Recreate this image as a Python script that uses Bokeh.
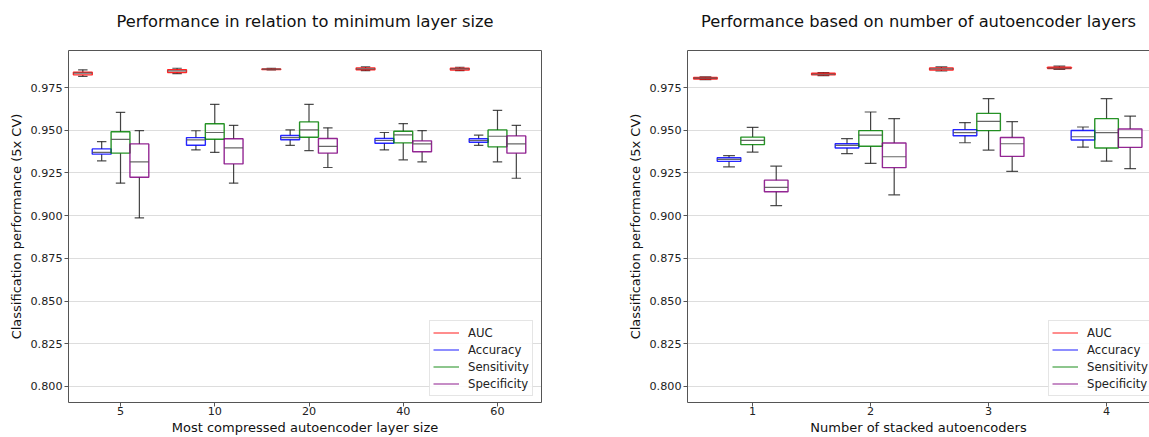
from bokeh.plotting import figure
from bokeh.models import (Range1d, FixedTicker, PrintfTickFormatter, LinearAxis,
                          Legend, LegendItem, ColumnDataSource)
from bokeh.layouts import row
from bokeh.embed import file_html
from bokeh.resources import INLINE

# ---------------- data: (whisker_low, q1, median, q3, whisker_high) per group
METRICS = ["AUC", "Accuracy", "Sensitivity", "Specificity"]

LEFT_GROUPS = ["5", "10", "20", "40", "60"]
LEFT_AUC = [(0.9816, 0.9824, 0.9834, 0.9840, 0.9854),
            (0.9832, 0.9838, 0.9848, 0.9855, 0.9863),
            (0.9854, 0.9855, 0.9858, 0.9859, 0.9863),
            (0.9849, 0.9854, 0.9859, 0.9865, 0.9871),
            (0.9849, 0.9853, 0.9859, 0.9863, 0.9869)]
LEFT_ACC = [(0.9321, 0.9360, 0.9371, 0.9391, 0.9434),
            (0.9385, 0.9412, 0.9444, 0.9457, 0.9497),
            (0.9412, 0.9444, 0.9457, 0.9469, 0.9502),
            (0.9385, 0.9424, 0.9440, 0.9452, 0.9487),
            (0.9412, 0.9430, 0.9440, 0.9450, 0.9471)]
LEFT_SENS = [(0.9190, 0.9366, 0.9447, 0.9491, 0.9605),
             (0.9370, 0.9447, 0.9487, 0.9538, 0.9652),
             (0.9381, 0.9459, 0.9502, 0.9549, 0.9652),
             (0.9327, 0.9426, 0.9473, 0.9494, 0.9539),
             (0.9315, 0.9403, 0.9465, 0.9502, 0.9617)]
LEFT_SPEC = [(0.8987, 0.9225, 0.9315, 0.9420, 0.9498),
             (0.9190, 0.9303, 0.9397, 0.9450, 0.9529),
             (0.9282, 0.9366, 0.9406, 0.9452, 0.9514),
             (0.9315, 0.9374, 0.9420, 0.9438, 0.9498),
             (0.9219, 0.9366, 0.9420, 0.9467, 0.9529)]

RIGHT_GROUPS = ["1", "2", "3", "4"]
RIGHT_AUC = [(0.9797, 0.9800, 0.9805, 0.9809, 0.9812),
             (0.9820, 0.9824, 0.9828, 0.9834, 0.9838),
             (0.9847, 0.9853, 0.9859, 0.9865, 0.9871),
             (0.9857, 0.9862, 0.9863, 0.9869, 0.9875)]
RIGHT_ACC = [(0.9286, 0.9318, 0.9329, 0.9339, 0.9351),
             (0.9363, 0.9396, 0.9411, 0.9421, 0.9451),
             (0.9427, 0.9468, 0.9486, 0.9504, 0.9545),
             (0.9401, 0.9443, 0.9462, 0.9499, 0.9519)]
RIGHT_SENS = [(0.9372, 0.9416, 0.9441, 0.9460, 0.9517),
              (0.9306, 0.9406, 0.9472, 0.9498, 0.9607),
              (0.9384, 0.9498, 0.9552, 0.9599, 0.9685),
              (0.9319, 0.9396, 0.9486, 0.9568, 0.9685)]
RIGHT_SPEC = [(0.9059, 0.9140, 0.9165, 0.9208, 0.9290),
              (0.9122, 0.9281, 0.9345, 0.9425, 0.9568),
              (0.9259, 0.9347, 0.9421, 0.9458, 0.9550),
              (0.9275, 0.9400, 0.9457, 0.9507, 0.9583)]

Y_TICKS = [0.800, 0.825, 0.850, 0.875, 0.900, 0.925, 0.950, 0.975]

# ---------------- style
COLORS = ["#ff0000", "#0000ff", "#008000", "#800080"]
OFFSETS = [-0.4, -0.2, 0.0, 0.2]
BOX_W = 0.2
CAP_W = 0.1
FONT = "DejaVu Sans"
AX_COL = "#555555"
NAN = float("nan")


def make_plot(title, xlabel, groups, series, width, mb_left, mb_right, x_end, right_axis):
    p = figure(width=width, height=437, output_backend="svg", toolbar_location=None,
               x_range=Range1d(-0.552, x_end), y_range=Range1d(0.7906, 0.9967),
               min_border_left=mb_left, min_border_right=mb_right,
               min_border_top=50, min_border_bottom=35)
    p.outline_line_color = None
    p.background_fill_color = "white"
    p.border_fill_color = "white"

    p.xgrid.visible = False
    p.ygrid.grid_line_color = "#dddddd"
    p.ygrid.grid_line_width = 1

    p.xaxis.ticker = FixedTicker(ticks=list(range(len(groups))))
    p.xaxis.major_label_overrides = {i: g for i, g in enumerate(groups)}
    p.yaxis.ticker = FixedTicker(ticks=Y_TICKS)
    p.yaxis.formatter = PrintfTickFormatter(format="%.3f")
    p.xaxis.axis_label = xlabel
    p.yaxis.axis_label = "Classification performance (5x CV)"
    for ax in (p.xaxis[0], p.yaxis[0]):
        ax.axis_line_color = AX_COL
        ax.major_tick_line_color = AX_COL
        ax.major_tick_out = 4
        ax.major_tick_in = 0
        ax.minor_tick_line_color = None
        ax.major_label_text_font = FONT
        ax.major_label_text_font_size = "11.2px"
        ax.major_label_text_color = "#222222"
        ax.axis_label_text_font = FONT
        ax.axis_label_text_font_size = "13px"
        ax.axis_label_text_font_style = "normal"
        ax.axis_label_text_color = "#111111"
    p.xaxis.major_label_standoff = 0
    p.xaxis.axis_label_standoff = 2
    p.yaxis.major_label_standoff = 2
    p.yaxis.axis_label_standoff = 3

    # top frame line, carrying the chart title as its label
    top_ax = LinearAxis(ticker=FixedTicker(ticks=[]), major_label_text_font_size="0px",
                        major_tick_out=0, major_tick_in=0, minor_tick_out=0, minor_tick_in=0,
                        major_label_standoff=0, axis_line_color=AX_COL,
                        axis_label=title, axis_label_standoff=20,
                        axis_label_text_font=FONT, axis_label_text_font_size="16.3px",
                        axis_label_text_font_style="normal",
                        axis_label_text_color="#111111")
    p.add_layout(top_ax, "above")
    if right_axis:
        r_ax = LinearAxis(ticker=FixedTicker(ticks=[]), major_label_text_font_size="0px",
                          major_tick_out=0, major_tick_in=0, minor_tick_out=0, minor_tick_in=0,
                          major_label_standoff=0, axis_line_color=AX_COL)
        p.add_layout(r_ax, "right")

    legend_items = []
    for k, (name, stats) in enumerate(zip(METRICS, series)):
        xs = [i + OFFSETS[k] for i in range(len(stats))]
        lo = [s[0] for s in stats]
        q1 = [s[1] for s in stats]
        med = [s[2] for s in stats]
        q3 = [s[3] for s in stats]
        hi = [s[4] for s in stats]
        src = ColumnDataSource(dict(
            x=xs, lo=lo, q1=q1, med=med, q3=q3, hi=hi,
            bl=[x - BOX_W / 2 for x in xs], br=[x + BOX_W / 2 for x in xs],
            cl=[x - CAP_W / 2 for x in xs], cr=[x + CAP_W / 2 for x in xs]))
        # whiskers
        p.segment(x0="x", y0="q3", x1="x", y1="hi", source=src,
                  line_color="#222222", line_alpha=0.85, line_width=1.2)
        p.segment(x0="x", y0="q1", x1="x", y1="lo", source=src,
                  line_color="#222222", line_alpha=0.85, line_width=1.2)
        # caps
        p.segment(x0="cl", y0="hi", x1="cr", y1="hi", source=src,
                  line_color="#222222", line_alpha=0.8, line_width=1.2)
        p.segment(x0="cl", y0="lo", x1="cr", y1="lo", source=src,
                  line_color="#222222", line_alpha=0.8, line_width=1.2)
        # boxes
        p.quad(left="bl", right="br", bottom="q1", top="q3", source=src,
               fill_alpha=0, line_color=COLORS[k], line_alpha=0.85, line_width=1.4)
        # medians
        p.segment(x0="bl", y0="med", x1="br", y1="med", source=src,
                  line_color="#555555", line_alpha=0.9, line_width=1.2)
        # legend proxy line (not drawn in the plot area: NaN point)
        proxy = p.line(x=[NAN], y=[NAN], line_color=COLORS[k], line_alpha=0.6,
                       line_width=1.5)
        legend_items.append(LegendItem(label=name, renderers=[proxy]))

    leg = Legend(items=legend_items, location=(361, 6), margin=0, padding=3, spacing=0,
                 label_height=17, glyph_height=17, glyph_width=26, label_standoff=9,
                 label_text_font=FONT, label_text_font_size="11.7px",
                 label_text_color="#222222",
                 border_line_color="#cccccc", border_line_width=1,
                 background_fill_color="white", background_fill_alpha=0.85)
    p.add_layout(leg, "center")
    return p


left = make_plot("Performance in relation to minimum layer size",
                 "Most compressed autoencoder layer size", LEFT_GROUPS,
                 [LEFT_AUC, LEFT_ACC, LEFT_SENS, LEFT_SPEC],
                 width=580, mb_left=68, mb_right=39, x_end=4.467, right_axis=True)
right = make_plot("Performance based on number of autoencoder layers",
                  "Number of stacked autoencoders", RIGHT_GROUPS,
                  [RIGHT_AUC, RIGHT_ACC, RIGHT_SENS, RIGHT_SPEC],
                  width=569, mb_left=107, mb_right=0, x_end=3.364, right_axis=False)

layout = row(left, right)
open("out.html", "w").write(file_html(layout, INLINE))
